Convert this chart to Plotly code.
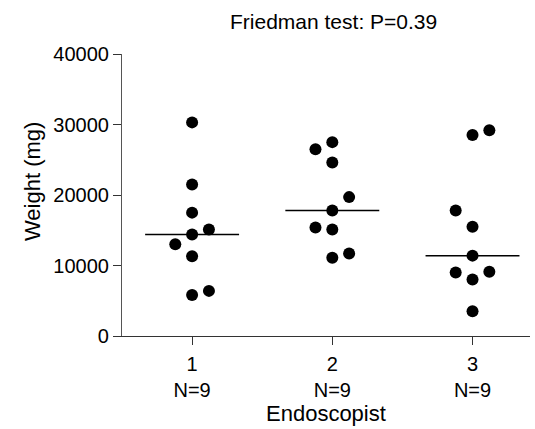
import numpy as np
import plotly.graph_objects as go

# ---- data ----
groups = [1, 2, 3]
group_labels = ["1", "2", "3"]
n_labels = ["N=9", "N=9", "N=9"]
weights_1 = [30300, 21500, 17500, 15100, 14400, 13000, 11300, 6400, 5800]
jitter_1 = [0, 0, 0, 0.12, 0, -0.12, 0, 0.12, 0]
weights_2 = [27500, 26500, 24600, 19700, 17800, 15400, 15100, 11700, 11100]
jitter_2 = [0, -0.12, 0, 0.12, 0, -0.12, 0, 0.12, 0]
weights_3 = [29200, 28500, 17800, 15500, 11400, 9100, 9000, 8000, 3500]
jitter_3 = [0.12, 0, -0.12, 0, 0, 0.12, -0.12, 0, 0]
y_ticks = [0, 10000, 20000, 30000, 40000]
title_text = "Friedman test: P=0.39"
x_title = "Endoscopist"
y_title = "Weight (mg)"

FONT = "Liberation Sans, Arial, sans-serif"
W, H = 535, 429
ML, MR, MT, MB = 122, 5, 54, 93
fig = go.Figure()

all_w = [weights_1, weights_2, weights_3]
all_j = [jitter_1, jitter_2, jitter_3]
half = 0.335
for g, w, j in zip(groups, all_w, all_j):
    med = float(np.median(w))
    fig.add_trace(go.Scatter(x=[g - half, g + half], y=[med, med], mode="lines",
                             line=dict(color="black", width=1.5), showlegend=False,
                             hoverinfo="skip"))
    fig.add_trace(go.Scatter(x=[g + o for o in j], y=w, mode="markers",
                             marker=dict(color="black", size=12), showlegend=False))

pw = W - ML - MR
ph = H - MT - MB


def px_to_paper(xp, yp):
    return (xp - ML) / pw, (H - MB - yp) / ph


tx, ty = px_to_paper(333, 21)
ex, ey = px_to_paper(326, 413)
yx, yy = px_to_paper(32, 182)

fig.update_layout(
    width=W, height=H,
    margin=dict(l=ML, r=MR, t=MT, b=MB),
    plot_bgcolor="white", paper_bgcolor="white",
    font=dict(family=FONT, color="black", size=20),
    xaxis=dict(range=[0.5, 3.41], tickmode="array", tickvals=groups,
               ticktext=[f"{a}<br>{b}" for a, b in zip(group_labels, n_labels)],
               showline=True, linecolor="#333", linewidth=1.2,
               ticks="outside", ticklen=8, tickcolor="#333", showgrid=False,
               zeroline=False, tickfont=dict(size=20), ticklabelstandoff=2),
    yaxis=dict(range=[0, 40000], tickmode="array", tickvals=y_ticks,
               ticktext=[str(v) for v in y_ticks],
               showline=True, linecolor="#555", linewidth=1.2,
               ticks="outside", ticklen=8, tickcolor="#333", showgrid=False,
               zeroline=False, tickfont=dict(size=20), ticklabelstandoff=0),
    annotations=[
        dict(text=title_text, x=tx, y=ty, xref="paper", yref="paper",
             xanchor="center", yanchor="middle",
             showarrow=False, font=dict(size=21)),
        dict(text=x_title, x=ex, y=ey, xref="paper", yref="paper",
             xanchor="center", yanchor="middle",
             showarrow=False, font=dict(size=22)),
        dict(text=y_title, x=yx, y=yy, xref="paper", yref="paper",
             xanchor="center", yanchor="middle",
             showarrow=False, textangle=-90, font=dict(size=22)),
    ],
)

fig.write_html("out.html")
